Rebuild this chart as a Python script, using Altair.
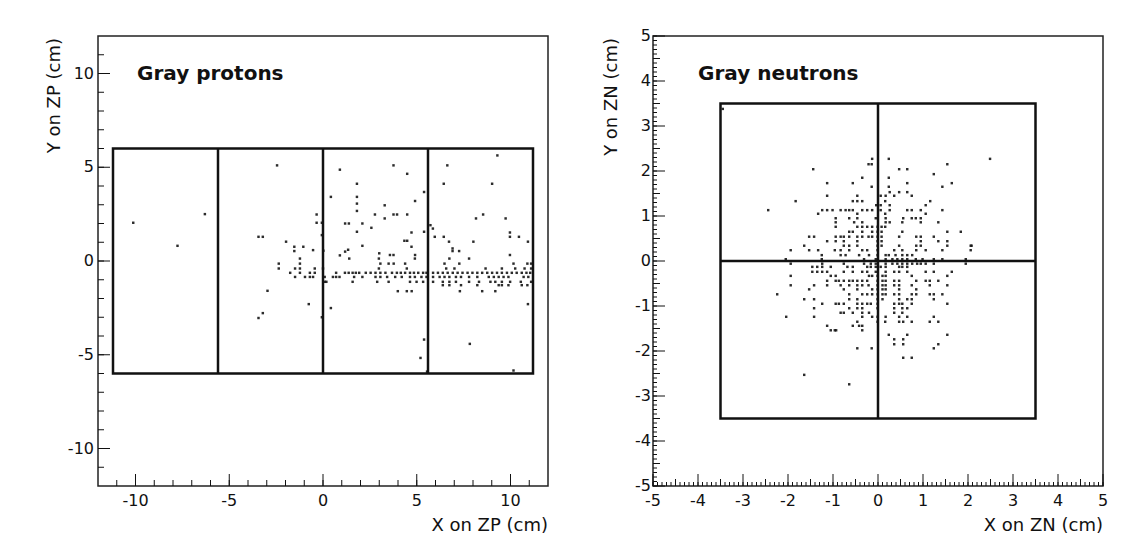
import altair as alt
import pandas as pd

W = 450
H = 450
FONT = "DejaVu Sans"

# ---------------- Gray protons (ZP) ----------------
proton_outer_x = [-10.12, -7.76, -6.30, -2.45, -3.44, -3.21, -1.97, -1.53, -1.53, -1.05, -0.53,
                  -0.34, -0.34, -0.06, -0.06, 0.02, 0.42, 0.90, 1.18, 1.38, 1.18, 1.34, 0.90,
                  1.81, 1.81, 1.81, 1.81, 1.81, 2.10, 2.10, 2.58, 2.77, 3.29, 3.29, 3.76, 3.76,
                  3.95, 4.49, 4.49, 4.91, 4.72, 4.34, 4.49, 4.72, 4.91, 3.76, 3.57, 3.00, 5.39,
                  5.39, 5.73, 5.86, 5.96, 6.63, 6.44, 6.44, 6.72, 6.91, 6.91, 7.26, 8.16, 8.02,
                  8.54, 9.02, 9.30, 9.74, 9.97, 9.97, 9.97, 10.45, 10.93,
                  -3.21, -3.44, -0.76, -0.06, 0.42, 5.39, 5.20, 10.93, 7.83, 10.16, 5.55, -2.96]
proton_outer_y = [2.04, 0.81, 2.50, 5.10, 1.29, 1.29, 1.03, 0.76, 0.53, 0.76, 0.58,
                  2.48, 2.04, 2.04, 1.38, 0.55, 3.42, 4.87, 2.00, 2.00, 0.50, 0.60, 0.30,
                  4.12, 3.42, 3.06, 2.67, 1.56, 2.00, 0.81, 1.77, 2.48, 2.97, 2.27, 5.10, 2.48,
                  2.48, 4.65, 2.48, 3.20, 1.52, 1.08, 1.08, 0.76, 0.32, 0.32, 0.32, 0.41, 3.68,
                  1.56, 1.91, 1.73, 1.29, 5.10, 4.12, 1.29, 1.03, 0.67, 0.53, 0.53, 2.27, 1.03,
                  2.48, 4.12, 5.63, 2.27, 1.52, 1.29, 0.32, 1.29, 1.03,
                  -2.78, -3.04, -2.30, -3.00, -2.51, -4.19, -5.17, -2.30, -4.42, -5.84, -5.90, -1.59]

proton_band_y = [0.13, -0.14, -0.40, -0.63, -0.85, -1.11, -1.29, -1.61]
proton_band_x = [
    [-1.23, 1.40, 2.98, 4.90, 6.74, 7.79],
    [-2.36, -1.23, 3.06, 3.50, 3.77, 4.38, 6.48, 7.27, 10.16, 10.90, 11.10],
    [-2.36, -1.49, -1.23, -0.44, 0.00, 2.98, 4.47, 6.57, 7.01, 8.67, 9.54, 10.25, 10.75, 11.10],
    [-1.75, -1.23, -0.70, -0.44, 0.70, 1.17, 1.37, 1.58, 1.75, 1.93, 2.28, 2.54, 2.80, 3.06,
     3.33, 3.68, 3.94, 4.15, 4.38, 4.64, 4.85, 5.08, 5.34, 5.52, 5.87, 6.13, 6.39, 6.65, 6.92,
     7.18, 7.44, 7.71, 7.97, 8.23, 8.49, 8.76, 9.02, 9.28, 9.54, 9.81, 10.07, 10.33, 10.60,
     10.85, 11.05],
    [-1.49, -0.96, -0.70, -0.53, 0.09, 0.53, 0.70, 0.88, 1.66, 2.10, 2.80, 3.06, 3.42, 3.85,
     4.20, 4.64, 4.90, 5.25, 5.52, 5.87, 6.22, 6.48, 6.74, 7.09, 7.36, 7.79, 8.23, 8.84, 9.11,
     9.37, 9.63, 9.89, 10.70, 10.95],
    [0.09, 0.18, 1.58, 2.89, 3.50, 4.64, 4.99, 5.34, 5.87, 6.39, 6.74, 7.09, 7.79, 8.32, 8.93,
     9.19, 9.54, 9.98, 10.55, 11.10],
    [6.39, 6.74, 7.36, 8.23, 9.37, 9.54, 9.89, 10.60, 10.90],
    [3.99, 4.47, 4.73, 7.30, 8.49, 9.19],
]

proton_box_x = [-11.2]
proton_box_x2 = [11.2]
proton_box_y = [-6.0]
proton_box_y2 = [6.0]
proton_dividers_x = [-5.6, 0.0, 5.6]

proton_x_labels = [-10, -5, 0, 5, 10]
proton_y_labels = [-10, -5, 0, 5, 10]
proton_minor_ticks = list(range(-11, 12))
proton_major_ticks = [-10, -5, 0, 5, 10]

# ---------------- Gray neutrons (ZN) ----------------
neutron_row_y = [2.27, 2.15, 2.04, 1.93, 1.85, 1.73, 1.65, 1.53, 1.45, 1.33, 1.24, 1.13, 1.05,
                 0.95, 0.86, 0.76, 0.65, 0.54, 0.44, 0.34, 0.24, 0.13, 0.04, -0.06, -0.13,
                 -0.24, -0.33, -0.44, -0.54, -0.63, -0.74, -0.85, -0.95, -1.05, -1.15, -1.24,
                 -1.35, -1.44, -1.54, -1.64, -1.74, -1.85, -1.94, -2.15, -2.53, -2.74, 3.38]
neutron_row_x = [
    [-0.13, 0.24, 2.49],
    [-0.21, -0.14, 1.54],
    [-1.44, 0.47, 0.65],
    [1.24],
    [-0.35, 0.24],
    [-1.13, -0.56, 0.65, 1.64],
    [-0.14, 0.24, 1.43],
    [0.26, 0.47, 0.65],
    [-1.13, -0.46, 0.06, 0.17, 0.36, 0.75],
    [-1.83, -0.56, -0.46, -0.35, 0.16, 1.16],
    [-0.04, 0.06, 0.26, 1.06],
    [-2.44, -1.24, -1.13, -1.01, -0.83, -0.72, -0.64, -0.56, -0.35, -0.24, -0.13, 0.06, 0.26,
     0.65, 0.75, 0.95, 1.43],
    [-1.33, -0.46, 0.16, 1.06],
    [-0.94, -0.64, -0.46, -0.05, 0.17, 0.56, 0.75, 0.84, 0.95],
    [-0.94, -0.53, -0.35, 0.17, 0.26, 0.54, 0.95, 1.34],
    [-0.94, -0.46, -0.35, -0.24, -0.13, -0.01, 0.08, 0.16],
    [-0.64, -0.56, -0.35, -0.13, -0.01, 0.08, 0.54, 1.54, 1.84],
    [-1.53, -1.42, -0.94, -0.83, -0.76, -0.64, -0.46, -0.35, -0.21, -0.13, -0.01, 0.08, 0.47,
     0.85, 0.95, 1.24],
    [-1.13, -0.94, -0.76, -0.46, -0.01, 0.08, 0.95, 1.34, 1.54],
    [-1.64, -0.76, -0.64, -0.46, -0.01, 0.08, 0.47, 0.85, 0.95, 1.54, 2.06, 2.08],
    [-1.94, -1.53, -1.33, -0.96, -0.83, -0.64, -0.35, -0.24, -0.01, 0.36, 0.54, 0.85, 1.06,
     1.43, 2.06],
    [-1.25, -0.83, -0.72, -0.42, -0.20, -0.01, 0.17, 0.24, 0.39, 0.54, 0.65, 0.76],
    [-2.05, -1.25, -0.31, -0.05, 0.17, 0.32, 0.43, 0.54, 0.65, 0.84, 0.99, 1.24, 1.43, 1.95],
    [-1.94, -1.24, -0.76, -0.31, -0.16, -0.05, 0.17, 0.32, 0.43, 0.54, 0.65, 0.76, 0.87, 0.95,
     1.06, 1.24, 1.95],
    [-1.46, -1.35, -1.24, -1.05, -0.68, -0.56, -0.24, -0.16, -0.05, 0.06, 0.17, 0.47, 0.54,
     0.65],
    [-1.46, -1.35, -1.24, -1.13, -0.76, -0.56, -0.35, -0.24, -0.05, 0.17, 0.36, 0.47, 0.65,
     1.06, 1.24, 1.64],
    [-1.94, -1.05, -0.94, -0.20, -0.13, -0.01, 0.10, 0.17, 0.75, 1.54],
    [-1.13, -0.94, -0.87, -0.76, -0.64, -0.56, -0.46, -0.35, -0.24, -0.01, 0.10, 0.17, 0.36,
     0.47, 0.85, 1.06, 1.15, 1.34],
    [-1.94, -1.42, -1.13, -0.83, -0.64, -0.46, -0.35, -0.21, -0.01, 0.10, 0.17, 0.36, 0.47,
     0.75, 1.15, 1.54],
    [-1.53, -0.76, -0.46, -0.13, -0.01, 0.10, 0.17, 0.47, 0.85],
    [-2.24, -0.64, -0.35, -0.24, -0.13, -0.01, 0.10, 0.17, 0.36, 0.47, 0.75, 0.85, 1.15, 1.24,
     1.43],
    [-1.64, -1.42, -0.64, -0.46, -0.01, 0.10, 0.47, 0.65, 0.75, 1.24],
    [-1.24, -0.94, -0.87, -0.76, -0.46, -0.35, -0.24, -0.16, -0.01, 0.36, 0.47, 0.54, 0.75,
     1.54],
    [-1.42, -0.64, -0.46, -0.35, -0.01, 0.36, 0.54, 0.65],
    [-0.83, -0.76, -0.56, -0.35, -0.20, 0.36, 0.54],
    [-2.04, -1.42, -0.35, -0.13, -0.01, 0.17, 0.47, 0.65, 1.24],
    [-0.46, -0.01, 0.16, 0.47, 0.56, 0.75, 1.15, 1.34],
    [-1.13, -0.56, -0.42, -0.35],
    [-1.05, -0.96, -0.93, -0.35],
    [0.24, 0.65, 1.54],
    [0.36, 0.56],
    [0.36, 0.56, 1.34],
    [-0.46, -0.14, 1.24],
    [0.56, 0.75],
    [-1.64],
    [-0.64],
    [-3.45],
]

neutron_box_x = [-3.5]
neutron_box_x2 = [3.5]
neutron_box_y = [-3.5]
neutron_box_y2 = [3.5]
neutron_cross_v = [0.0]
neutron_cross_h = [0.0]

neutron_x_labels = [-5, -4, -3, -2, -1, 0, 1, 2, 3, 4, 5]
neutron_y_labels = [-5, -4, -3, -2, -1, 0, 1, 2, 3, 4, 5]
neutron_major_ticks = [-5, -4, -3, -2, -1, 0, 1, 2, 3, 4, 5]
neutron_mid_ticks = [-4.5, -3.5, -2.5, -1.5, -0.5, 0.5, 1.5, 2.5, 3.5, 4.5]
neutron_minor_ticks = [i / 10 for i in range(-50, 51)]

INK = "#111"


def build_panel(px, py, xdom, ydom, xlabels, ylabels, tick_sets, box, vlines, hlines,
                title, xtitle, ytitle, y_label_pad, ytitle_x):
    xs = alt.Scale(domain=xdom, nice=False, zero=False)
    ys = alt.Scale(domain=ydom, nice=False, zero=False)

    pts = pd.DataFrame({"x": px, "y": py})
    layers = [alt.Chart(pts).mark_square(size=6, color="#151515", opacity=0.9).encode(
        x=alt.X("x:Q", scale=xs, axis=None),
        y=alt.Y("y:Q", scale=ys, axis=None),
    )]

    # inward ROOT-style ticks
    for vals, length in tick_sets:
        tdf = pd.DataFrame({"v": vals})
        layers.append(alt.Chart(tdf).mark_rule(color=INK, strokeWidth=1).encode(
            x=alt.X("v:Q", scale=xs, axis=None),
            y=alt.value(H), y2=alt.value(H - length)))
        layers.append(alt.Chart(tdf).mark_rule(color=INK, strokeWidth=1).encode(
            y=alt.Y("v:Q", scale=ys, axis=None),
            x=alt.value(0), x2=alt.value(length)))

    # tick labels
    xl = pd.DataFrame({"v": xlabels, "lab": [str(v) for v in xlabels]})
    layers.append(alt.Chart(xl).mark_text(
        align="center", baseline="alphabetic", font=FONT, fontSize=16, color=INK).encode(
        x=alt.X("v:Q", scale=xs, axis=None), y=alt.value(H + 20), text="lab:N"))
    yl = pd.DataFrame({"v": ylabels, "lab": [str(v) for v in ylabels]})
    layers.append(alt.Chart(yl).mark_text(
        align="right", baseline="middle", font=FONT, fontSize=16, color=INK).encode(
        y=alt.Y("v:Q", scale=ys, axis=None), x=alt.value(-y_label_pad), text="lab:N"))

    # axis titles
    layers.append(alt.Chart(pd.DataFrame({"t": [xtitle]})).mark_text(
        align="right", baseline="alphabetic", font=FONT, fontSize=18, color=INK).encode(
        text="t:N", x=alt.value(W), y=alt.value(H + 45)))
    layers.append(alt.Chart(pd.DataFrame({"t": [ytitle]})).mark_text(
        align="right", baseline="alphabetic", font=FONT, fontSize=18, color=INK,
        angle=270).encode(
        text="t:N", x=alt.value(ytitle_x), y=alt.value(2)))

    # detector outline
    bdf = pd.DataFrame({"x": box[0], "x2": box[1], "y": box[2], "y2": box[3]})
    layers.append(alt.Chart(bdf).mark_rect(fillOpacity=0, stroke=INK, strokeWidth=2.5).encode(
        x=alt.X("x:Q", scale=xs, axis=None), x2="x2:Q",
        y=alt.Y("y:Q", scale=ys, axis=None), y2="y2:Q"))

    vdf = pd.DataFrame({"x": vlines, "y": box[2] * len(vlines), "y2": box[3] * len(vlines)})
    layers.append(alt.Chart(vdf).mark_rule(color=INK, strokeWidth=2.5).encode(
        x=alt.X("x:Q", scale=xs, axis=None),
        y=alt.Y("y:Q", scale=ys, axis=None), y2="y2:Q"))

    if hlines:
        hdf = pd.DataFrame({"y": hlines, "x": box[0] * len(hlines), "x2": box[1] * len(hlines)})
        layers.append(alt.Chart(hdf).mark_rule(color=INK, strokeWidth=2.5).encode(
            y=alt.Y("y:Q", scale=ys, axis=None),
            x=alt.X("x:Q", scale=xs, axis=None), x2="x2:Q"))

    tdf = pd.DataFrame({"t": [title[0]]})
    layers.append(alt.Chart(tdf).mark_text(
        align="left", baseline="alphabetic", font=FONT, fontWeight="bold",
        fontSize=20, color=INK).encode(
        text="t:N", x=alt.value(title[1]), y=alt.value(title[2])))

    return alt.layer(*layers).properties(width=W, height=H)


proton_x = list(proton_outer_x)
proton_y = list(proton_outer_y)
for yv, xrow in zip(proton_band_y, proton_band_x):
    proton_x += xrow
    proton_y += [yv] * len(xrow)

neutron_x = []
neutron_y = []
for yv, xrow in zip(neutron_row_y, neutron_row_x):
    neutron_x += xrow
    neutron_y += [yv] * len(xrow)

left = build_panel(
    proton_x, proton_y, [-12, 12], [-12, 12], proton_x_labels, proton_y_labels,
    [(proton_minor_ticks, 6), (proton_major_ticks, 12)],
    (proton_box_x, proton_box_x2, proton_box_y, proton_box_y2),
    proton_dividers_x, [],
    ("Gray protons", 39, 44), "X on ZP (cm)", "Y on ZP (cm)", 4, -38)

right = build_panel(
    neutron_x, neutron_y, [-5, 5], [-5, 5], neutron_x_labels, neutron_y_labels,
    [(neutron_minor_ticks, 4), (neutron_mid_ticks, 7), (neutron_major_ticks, 12)],
    (neutron_box_x, neutron_box_x2, neutron_box_y, neutron_box_y2),
    neutron_cross_v, neutron_cross_h,
    ("Gray neutrons", 45, 44), "X on ZN (cm)", "Y on ZN (cm)", 2, -36)

chart = alt.hconcat(left, right, spacing=105, bounds="flush").properties(
    padding={"left": 37, "top": 19, "right": 10, "bottom": 5},
    background="white",
).configure_view(stroke="#222", strokeWidth=1.5)

chart.save("out.html", embed_options={"renderer": "svg", "actions": False})
